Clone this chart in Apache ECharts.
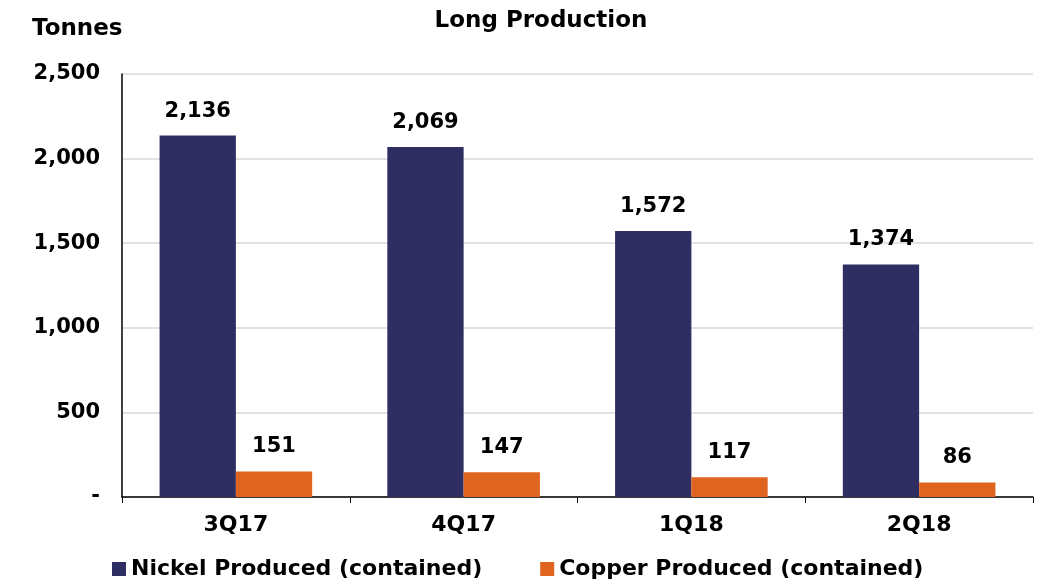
<!DOCTYPE html>
<html>
<head>
<meta charset="utf-8">
<script src="https://cdn.jsdelivr.net/npm/echarts@6/dist/echarts.min.js"></script>
<style>
  html, body { margin: 0; padding: 0; background: #fff; }
  #chart { width: 1040px; height: 583px; }
</style>
</head>
<body>
<div id="chart"></div>
<script>
const quarters = ['3Q17', '4Q17', '1Q18', '2Q18']
const nickel = [2136, 2069, 1572, 1374]
const copper = [151, 147, 117, 86]

const font = 'DejaVu Sans, Liberation Sans, sans-serif'
const fmt = v => v === 0 ? '-' : v.toLocaleString('en-US')

const chart = echarts.init(document.getElementById('chart'))

const barLabel = {
  show: true,
  position: 'top',
  distance: 14,
  fontFamily: font,
  fontWeight: 'bold',
  fontSize: 21,
  color: '#000',
  formatter: p => fmt(p.value)
}

chart.setOption({
  animation: false,
  title: {
    text: 'Long Production',
    left: 536,
    textAlign: 'center',
    top: 5,
    textStyle: { fontFamily: font, fontWeight: 'bold', fontSize: 23, color: '#000' }
  },
  legend: {
    bottom: -2,
    left: 107,
    icon: 'rect',
    itemWidth: 14,
    itemHeight: 14,
    itemGap: 58,
    textStyle: { fontFamily: font, fontWeight: 'bold', fontSize: 22, color: '#000' },
    data: ['Nickel Produced (contained)', 'Copper Produced (contained)']
  },
  grid: {
    left: 122,
    right: 7,
    top: 74,
    bottom: 86
  },
  xAxis: {
    type: 'category',
    data: quarters,
    axisLine: { lineStyle: { color: '#000', width: 1.5 } },
    axisTick: { show: true, length: 6, lineStyle: { color: '#000' } },
    axisLabel: { fontFamily: font, fontWeight: 'bold', fontSize: 22, color: '#000', margin: 17 }
  },
  yAxis: {
    type: 'value',
    min: 0,
    max: 2500,
    interval: 500,
    name: 'Tonnes',
    nameLocation: 'end',
    nameGap: 33,
    nameTextStyle: { fontFamily: font, fontWeight: 'bold', fontSize: 23, color: '#000', align: 'left', padding: [0, 0, 0, -90] },
    axisLine: { show: true, lineStyle: { color: '#000', width: 1.5 } },
    axisTick: { show: false },
    splitLine: { lineStyle: { color: '#d9d9d9', width: 1.5 } },
    axisLabel: { fontFamily: font, fontWeight: 'bold', fontSize: 21, color: '#000', margin: 22, formatter: fmt }
  },
  series: [
    {
      name: 'Nickel Produced (contained)',
      type: 'bar',
      data: nickel,
      barGap: '0%',
      barCategoryGap: '33%',
      itemStyle: { color: '#2e2e63' },
      label: barLabel
    },
    {
      name: 'Copper Produced (contained)',
      type: 'bar',
      data: copper,
      itemStyle: { color: '#de6420' },
      label: barLabel
    }
  ]
})
</script>
</body>
</html>
